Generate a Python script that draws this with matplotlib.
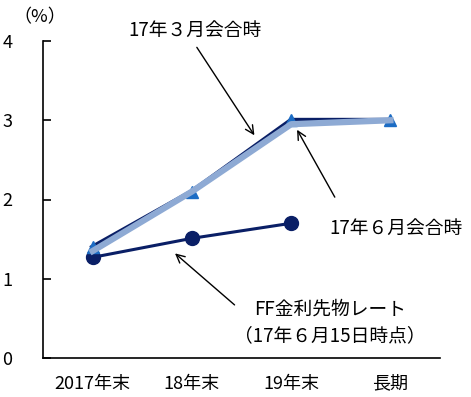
import matplotlib
matplotlib.use("Agg")
import matplotlib.pyplot as plt

plt.rcParams['font.family'] = ['Noto Sans CJK JP', 'DejaVu Sans']

# data
categories = ["2017年末", "18年末", "19年末", "長期"]
march_vals = [1.4, 2.1, 3.0, 3.0]
june_vals = [1.35, 2.1, 2.95, 3.0]
ff_vals = [1.27, 1.51, 1.70]

x = list(range(len(categories)))

fig = plt.figure(figsize=(4.71, 3.97), dpi=100)
ax = fig.add_axes([43 / 471, 39 / 397, 397 / 471, 317 / 397])

# FF futures
ax.plot(x[:3], ff_vals, color="#0a1f66", lw=2.2, marker="o", ms=10,
        markerfacecolor="#0a1f66", markeredgecolor="#0a1f66", zorder=3)
# March meeting (dark)
ax.plot(x, march_vals, color="#0a1f66", lw=3.5, zorder=4)
ax.plot(x, march_vals, ls="none", marker="^", ms=9, color="#1c6cc4", zorder=5)
# June meeting (light)
ax.plot(x, june_vals, color="#8eaad4", lw=4.5, zorder=6)

ax.set_xlim(-0.5, 3.5)
ax.set_ylim(0, 4)
ax.set_yticks([0, 1, 2, 3, 4])
ax.set_xticks(x)
ax.set_xticklabels(categories)
ax.tick_params(axis="y", direction="in", length=6, width=1.2, pad=22, labelsize=13)
ax.tick_params(axis="x", length=0, pad=12, labelsize=13)
for s in ["top", "right"]:
    ax.spines[s].set_visible(False)
ax.spines["left"].set_linewidth(1.2)
ax.spines["bottom"].set_linewidth(1.2)

fig.text(40 / 471, 1 - 17 / 397, "（%）", ha="center", va="center", fontsize=13)

arrow = dict(arrowstyle="->", color="black", lw=1, mutation_scale=15, shrinkA=0, shrinkB=0)

ax.text(1.03, 4.14, "17年３月会合時", ha="center", va="center", fontsize=13.5)
ax.annotate("", xy=(1.63, 2.81), xytext=(1.05, 3.92), arrowprops=arrow, annotation_clip=False)

ax.text(3.06, 1.64, "17年６月会合時", ha="center", va="center", fontsize=13.5)
ax.annotate("", xy=(2.06, 2.88), xytext=(2.44, 2.03), arrowprops=arrow)

ax.text(2.39, 0.45, "FF金利先物レート\n（17年６月15日時点）", ha="center", va="center",
        fontsize=13.5, linespacing=1.3)
ax.annotate("", xy=(0.83, 1.32), xytext=(1.43, 0.67), arrowprops=arrow)

fig.savefig("out.png", dpi=100)
